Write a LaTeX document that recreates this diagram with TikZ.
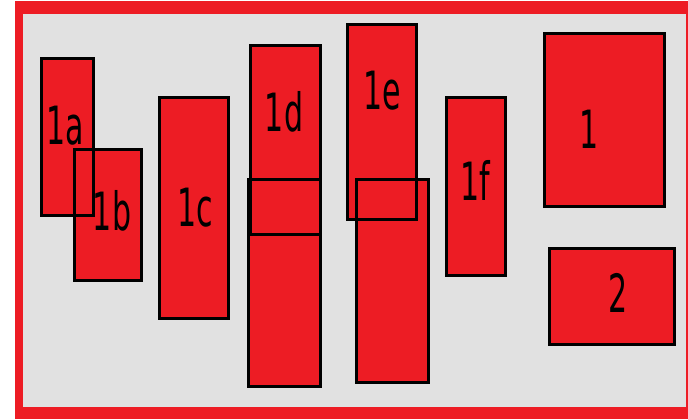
\documentclass[tikz,border=0pt]{standalone}
\usepackage{fontspec}
\newfontfamily\boxfont[FakeStretch=0.57]{DejaVu Sans}
\definecolor{boxred}{HTML}{ED1C24}
\definecolor{panelgray}{HTML}{E1E1E1}

\begin{document}
\begin{tikzpicture}[x=0.02cm, y=-0.02cm,
    blk/.style={fill=boxred, inner sep=0pt, outer sep=0pt},
    edge/.style={draw=black, line width=0.06cm},
    lbl/.style={anchor=base, inner sep=0pt, text=black,
                font=\boxfont\fontsize{30}{34}\selectfont}
]
    \useasboundingbox (0,0) rectangle (688,419);

    % frame
    \fill[boxred] (15,1) rectangle (688,419);
    \fill[panelgray] (23,14) rectangle (686,407);

    % boxes (fill first, borders later)
    \node[blk, minimum width=52*0.02cm, minimum height=157*0.02cm] (b1a) at (67.5,137) {};
    \node[blk, minimum width=67*0.02cm, minimum height=131*0.02cm] (b1b) at (108,215) {};
    \node[blk, minimum width=69*0.02cm, minimum height=221*0.02cm] (b1c) at (194,208) {};
    \node[blk, minimum width=70*0.02cm, minimum height=189*0.02cm] (b1d) at (285.5,140) {};
    \node[blk, minimum width=72*0.02cm, minimum height=207*0.02cm] (b1dlow) at (284.5,283) {};
    \node[blk, minimum width=69*0.02cm, minimum height=195*0.02cm] (b1e) at (382,122) {};
    \node[blk, minimum width=72*0.02cm, minimum height=203*0.02cm] (b1elow) at (392.5,281) {};
    \node[blk, minimum width=59*0.02cm, minimum height=178*0.02cm] (b1f) at (476,186.5) {};
    \node[blk, minimum width=120*0.02cm, minimum height=173*0.02cm] (b1) at (604.5,120) {};
    \node[blk, minimum width=125*0.02cm, minimum height=96*0.02cm] (b2) at (612,296.5) {};

    % borders on top of every fill
    \foreach \b in {b1a,b1b,b1c,b1d,b1dlow,b1e,b1elow,b1f,b1,b2}
        \draw[edge] (\b.south west) rectangle (\b.north east);

    % labels
    \node[lbl] (t1a) at (65,144) {1a};
    \node[lbl] (t1b) at (112,230) {1b};
    \node[lbl] (t1c) at (195,226) {1c};
    \node[lbl] (t1d) at (284,131) {1d};
    \node[lbl] (t1e) at (382,109) {1e};
    \node[lbl] (t1f) at (475,200) {1f};
    \node[lbl] (t1) at (589,148) {1};
    \node[lbl] (t2) at (618,312) {2};
\end{tikzpicture}
\end{document}
